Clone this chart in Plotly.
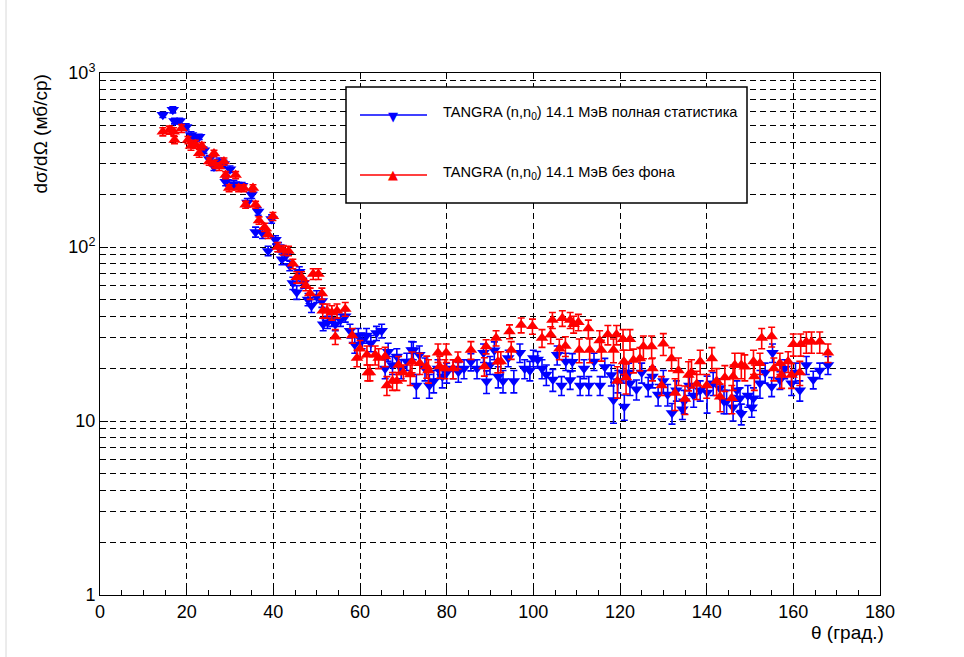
import plotly.graph_objects as go

# ---- data ----
blue_theta = [14.5, 16.8, 17.2, 18.4, 19.9, 21.0, 22.0, 22.9, 24.0, 25.2, 26.3, 27.5, 28.6, 29.0, 30.0,
              30.9, 32.0, 32.8, 34.0, 35.0, 35.9, 36.5, 37.5, 38.8, 39.6, 40.5, 41.2, 42.0, 43.0, 43.8,
              44.5, 45.4, 46.0, 47.0, 48.0, 48.8, 50.0, 51.2, 51.5, 52.5, 53.5, 54.3, 55.5, 56.6, 57.7,
              58.8, 59.6, 60.5, 61.5, 62.5, 63.8, 65.0, 65.8, 66.5, 67.5, 68.5, 69.5, 70.8, 71.9, 72.3,
              73.0, 73.7, 75.0, 76.0, 77.0, 78.0, 79.0, 80.0, 81.5, 82.7, 84.0, 85.6, 87.0, 88.5, 89.2,
              90.0, 91.0, 91.9, 93.0, 94.2, 95.5, 96.9, 98.0, 99.2, 100.0, 101.0, 102.0, 103.0, 104.5, 105.5,
              106.5, 107.5, 108.5, 109.0, 110.8, 111.7, 112.8, 114.0, 115.4, 116.5, 118.0, 118.5, 119.5, 120.7, 121.0,
              122.0, 122.3, 123.8, 125.0, 126.5, 127.5, 128.8, 130.0, 131.0, 132.0, 133.0, 134.4, 134.8, 136.0, 137.0,
              138.5, 140.1, 141.5, 143.0, 144.0, 144.6, 146.1, 147.0, 147.7, 148.0, 149.5, 150.4, 150.8, 152.3, 153.5,
              155.0, 155.2, 156.9, 158.0, 159.6, 160.5, 161.5, 163.0, 164.6, 166.1, 168.0]
blue_sigma = [575, 615, 530, 530, 490, 440, 420, 430, 360, 320, 290, 310, 300, 237, 280,
              230, 225, 225, 180, 200, 122, 160, 120, 95, 145, 110, 100, 85, 90, 78,
              62, 55, 72, 62, 50, 46, 52, 49, 36, 37, 38, 36, 38, 40, 33,
              27.5, 31, 29, 31, 28, 32, 33, 20, 25, 21, 23.5, 20, 22, 25.6, 25.5,
              16, 24, 20, 16, 17, 20, 18, 19, 20, 19.2, 20, 21.9, 20, 24.7, 16.9,
              21, 25.5, 18, 17, 23, 17, 24.7, 20, 19.5, 23, 22.6, 20, 18.5, 17.3, 24,
              16, 22, 17.2, 21.9, 16, 20, 16, 22, 16, 20.4, 18.4, 13.2, 17, 19, 12.1,
              19, 16.5, 15.2, 19, 15.8, 18, 14.2, 17, 14.2, 11.1, 15, 11.7, 13, 16, 14,
              15, 14.6, 16.5, 15.5, 13, 13, 12, 15, 13.5, 11, 14, 12, 13.5, 16.5, 19,
              15.8, 24.7, 17.2, 20, 16.5, 19, 15, 21, 17.3, 19.5, 21]
blue_err = [20, 25, 20, 20, 20, 20, 15, 15, 15, 15, 15, 15, 15, 12, 12,
            12, 10, 10, 10, 10, 8, 8, 8, 6, 8, 6, 6, 6, 6, 5,
            5, 5, 5, 4, 4, 4, 4, 4, 3, 3, 3, 3, 3, 3, 3,
            3, 3, 3, 3, 3, 3, 3, 2.5, 3, 2.5, 2.5, 2.5, 2.5, 3, 3,
            2.5, 3, 3, 2.5, 2.5, 2.5, 2.5, 2.5, 2.5, 2.5, 2.5, 2.5, 2.5, 3, 2.5,
            2.5, 3, 2.5, 2.5, 2.5, 2.5, 3, 2.5, 2.5, 2.5, 2.5, 2.5, 2.5, 2.5, 3,
            2, 2.5, 2, 2.5, 2, 2.5, 2, 2.5, 2, 2.5, 2.5, 3.5, 2.5, 2.5, 2,
            2.5, 2.5, 2, 2.5, 2, 2.5, 2, 2.5, 2, 1.5, 2, 1.5, 2, 2, 2,
            2, 3.5, 2.5, 2, 2, 2, 2, 2, 2, 1.5, 2, 1.5, 2, 3, 2.5,
            2, 3, 2, 2.5, 2.5, 2.5, 2, 2.5, 2, 2, 2.5]

red_theta = [14.5, 16.0, 17.0, 17.2, 18.8, 20.3, 21.0, 22.0, 22.9, 23.5, 25.2, 26.3, 26.5, 27.5, 28.6,
             29.0, 29.8, 31.3, 32.0, 33.2, 33.6, 35.3, 35.9, 36.7, 38.0, 38.8, 39.9, 41.0, 42.3, 43.5,
             44.5, 45.4, 46.5, 47.5, 48.5, 49.2, 50.4, 51.2, 51.4, 52.4, 53.5, 54.3, 54.7, 56.6, 58.2,
             59.3, 60.0, 61.6, 61.8, 62.3, 63.5, 64.3, 65.8, 66.2, 67.5, 68.5, 68.9, 70.0, 71.6, 72.0,
             73.8, 75.4, 75.8, 78.0, 78.4, 79.6, 79.9, 81.5, 82.6, 85.6, 88.7, 89.1, 91.4, 91.8, 92.5,
             94.5, 94.9, 97.2, 99.8, 102.0, 104.0, 104.4, 106.0, 106.7, 107.4, 108.5, 109.3, 110.4, 110.6, 112.7,
             113.0, 115.3, 115.7, 117.2, 118.5, 119.2, 119.4, 120.7, 120.9, 121.4, 122.3, 123.1, 124.6, 125.4, 127.3,
             127.5, 129.6, 130.0, 131.9, 132.7, 133.5, 135.0, 135.8, 136.5, 137.7, 138.5, 140.0, 141.2, 142.3, 143.1,
             144.2, 145.8, 146.1, 146.5, 148.0, 148.8, 150.8, 151.0, 152.3, 152.7, 155.0, 155.5, 156.9, 157.3, 158.8,
             159.6, 160.0, 161.5, 161.7, 163.0, 164.2, 166.1, 168.0]
red_sigma = [460, 470, 460, 412, 480, 412, 380, 390, 346, 380, 310, 345, 300, 290, 310,
             259, 218, 259, 218, 218, 175, 218, 175, 142, 130, 118, 150, 100, 96, 95,
             80, 67, 67, 60, 54, 70, 70, 54, 43, 43, 42, 30.5, 43, 44, 31,
             23, 26, 24, 19, 19, 24, 23, 23.5, 16, 17, 17, 21, 19, 18.5, 21.9,
             21.5, 20.6, 19.5, 24.7, 20.6, 20, 24.7, 20, 22.4, 25.6, 20.6, 26.8, 30, 21.9, 22,
             32.7, 25.6, 35.6, 35, 30, 31.3, 38, 26, 39, 27, 38, 36, 37, 25.6, 34,
             25.6, 29, 25.6, 31.4, 25.6, 31.4, 17, 29.5, 22, 17.8, 29.5, 22.4, 22.9, 26.8, 26.8,
             20, 16, 27.8, 22.9, 14.5, 19.5, 13.4, 18.4, 19, 16.3, 22, 16, 22.9, 17, 13.8,
             17.8, 13.5, 18, 21, 21, 20.5, 22, 18, 21.5, 30, 30.6, 20, 21.5, 18.4, 22,
             18.4, 27.6, 19, 27.6, 28.5, 28.5, 28.5, 24.7]
red_err = [25, 25, 25, 20, 25, 20, 20, 20, 18, 18, 15, 15, 15, 15, 15,
           12, 10, 12, 10, 10, 8, 10, 8, 7, 7, 6, 8, 6, 6, 6,
           5, 5, 5, 4, 4, 5, 5, 4, 4, 4, 4, 3, 4, 4, 3,
           2.5, 3, 3, 2, 2, 3, 3, 3, 2, 2, 2, 2.5, 2, 2.5, 3,
           3, 3, 3, 3, 3, 2.5, 3, 2.5, 2.5, 3, 2.5, 2.5, 3, 3, 3,
           3, 3, 3.5, 3.5, 3.5, 3.5, 4, 3.5, 4, 3.5, 4, 4, 4, 4, 4,
           4, 4, 3.5, 4, 4, 4, 3.5, 4, 3.5, 3.5, 4, 3.5, 3.5, 4, 4,
           3, 2, 4, 3.5, 3, 3.5, 2.5, 3.5, 3.5, 3, 3.5, 2.5, 3.5, 3, 2.5,
           3, 2.5, 3, 3.5, 3.5, 3.5, 3.5, 3, 3, 4, 4, 3, 3, 3, 3,
           3, 4, 3, 4, 4, 4, 4, 3]

blue_name = "TANGRA (n,n<sub>0</sub>) 14.1 МэВ полная статистика"
red_name = "TANGRA (n,n<sub>0</sub>) 14.1 МэВ без фона"

x_ticks = [0, 20, 40, 60, 80, 100, 120, 140, 160, 180]
y_ticks = [1, 10, 100, 1000]
y_ticktext = ["1", "10", "10<sup>2</sup>", "10<sup>3</sup>"]
y_minor = [m * d for d in (1, 10, 100) for m in range(2, 10)]

FONT = "Liberation Sans, Arial, sans-serif"
DASH = "6px,4px"
GW = 1.3

fig = go.Figure()
fig.add_trace(go.Scatter(
    x=blue_theta, y=blue_sigma, mode="markers", name=blue_name,
    marker=dict(symbol="triangle-down", size=11, color="#0000ff", line=dict(width=0)),
    error_y=dict(type="data", array=blue_err, color="#0000ff", thickness=1.6, width=3.5),
    showlegend=False))
fig.add_trace(go.Scatter(
    x=red_theta, y=red_sigma, mode="markers", name=red_name,
    marker=dict(symbol="triangle-up", size=11, color="#ff0000", line=dict(width=0)),
    error_y=dict(type="data", array=red_err, color="#ff0000", thickness=1.6, width=3.5),
    showlegend=False))

fig.update_xaxes(
    range=[0, 180], tickmode="array", tickvals=x_ticks,
    ticks="inside", ticklen=7, tickwidth=1, tickcolor="black",
    showline=True, linecolor="black", linewidth=1, mirror=True,
    showgrid=True, gridcolor="black", gridwidth=GW, griddash=DASH,
    zeroline=False,
    minor=dict(dtick=5, ticks="inside", ticklen=5, tickcolor="black", showgrid=False),
    tickfont=dict(family=FONT, size=18, color="black"))
fig.update_yaxes(
    type="log", range=[0, 3], tickmode="array", tickvals=y_ticks, ticktext=y_ticktext,
    ticks="inside", ticklen=8, tickwidth=1, tickcolor="black",
    showline=True, linecolor="black", linewidth=1, mirror=True,
    showgrid=True, gridcolor="black", gridwidth=GW, griddash=DASH,
    zeroline=False,
    minor=dict(tickmode="array", tickvals=y_minor, ticks="inside", ticklen=4, tickcolor="black",
               showgrid=True, gridcolor="black", gridwidth=GW, griddash=DASH),
    tickfont=dict(family=FONT, size=18, color="black"))

# legend box (drawn manually, ROOT style)
L, R, T, B = 100, 880, 73, 595
W, H = R - L, B - T
def px(x): return (x - L) / W
def py(y): return (B - y) / H

shapes = [
    dict(type="rect", xref="paper", yref="paper", x0=px(346), x1=px(747), y0=py(203), y1=py(87),
         line=dict(color="black", width=1.5), fillcolor="white", layer="above"),
    dict(type="line", xref="paper", yref="paper", x0=px(360), x1=px(427), y0=py(115), y1=py(115),
         line=dict(color="#0000ff", width=1.5), layer="above"),
    dict(type="line", xref="paper", yref="paper", x0=px(360), x1=px(427), y0=py(175), y1=py(175),
         line=dict(color="#ff0000", width=1.5), layer="above"),
    dict(type="line", xref="paper", yref="paper", x0=px(6), x1=px(6), y0=py(0), y1=py(657),
         line=dict(color="#d8d8d8", width=1)),
]

annotations = [
    dict(xref="paper", yref="paper", x=px(393), y=py(116), text="▼", showarrow=False,
         font=dict(family="DejaVu Sans", size=13, color="#0000ff"), xanchor="center", yanchor="middle"),
    dict(xref="paper", yref="paper", x=px(393), y=py(174), text="▲", showarrow=False,
         font=dict(family="DejaVu Sans", size=13, color="#ff0000"), xanchor="center", yanchor="middle"),
    dict(xref="paper", yref="paper", x=px(441), y=py(113), text=blue_name, showarrow=False,
         font=dict(family=FONT, size=14.6, color="black"), xanchor="left", yanchor="middle"),
    dict(xref="paper", yref="paper", x=px(441), y=py(173), text=red_name, showarrow=False,
         font=dict(family=FONT, size=14.6, color="black"), xanchor="left", yanchor="middle"),
    dict(xref="paper", yref="paper", x=px(886), y=py(632), text="θ (град.)", showarrow=False,
         font=dict(family=FONT, size=19, color="black"), xanchor="right", yanchor="middle"),
    dict(xref="paper", yref="paper", x=px(40), y=py(73), text="dσ/dΩ (мб/ср)", showarrow=False,
         textangle=-90, font=dict(family=FONT, size=19, color="black"), xanchor="center", yanchor="top"),
]

fig.update_layout(
    width=964, height=657, autosize=False,
    margin=dict(l=L, r=964 - R, t=T, b=657 - B, pad=0),
    paper_bgcolor="white", plot_bgcolor="white",
    shapes=shapes, annotations=annotations, showlegend=False,
    font=dict(family=FONT, color="black"))

fig.write_html("out.html")
